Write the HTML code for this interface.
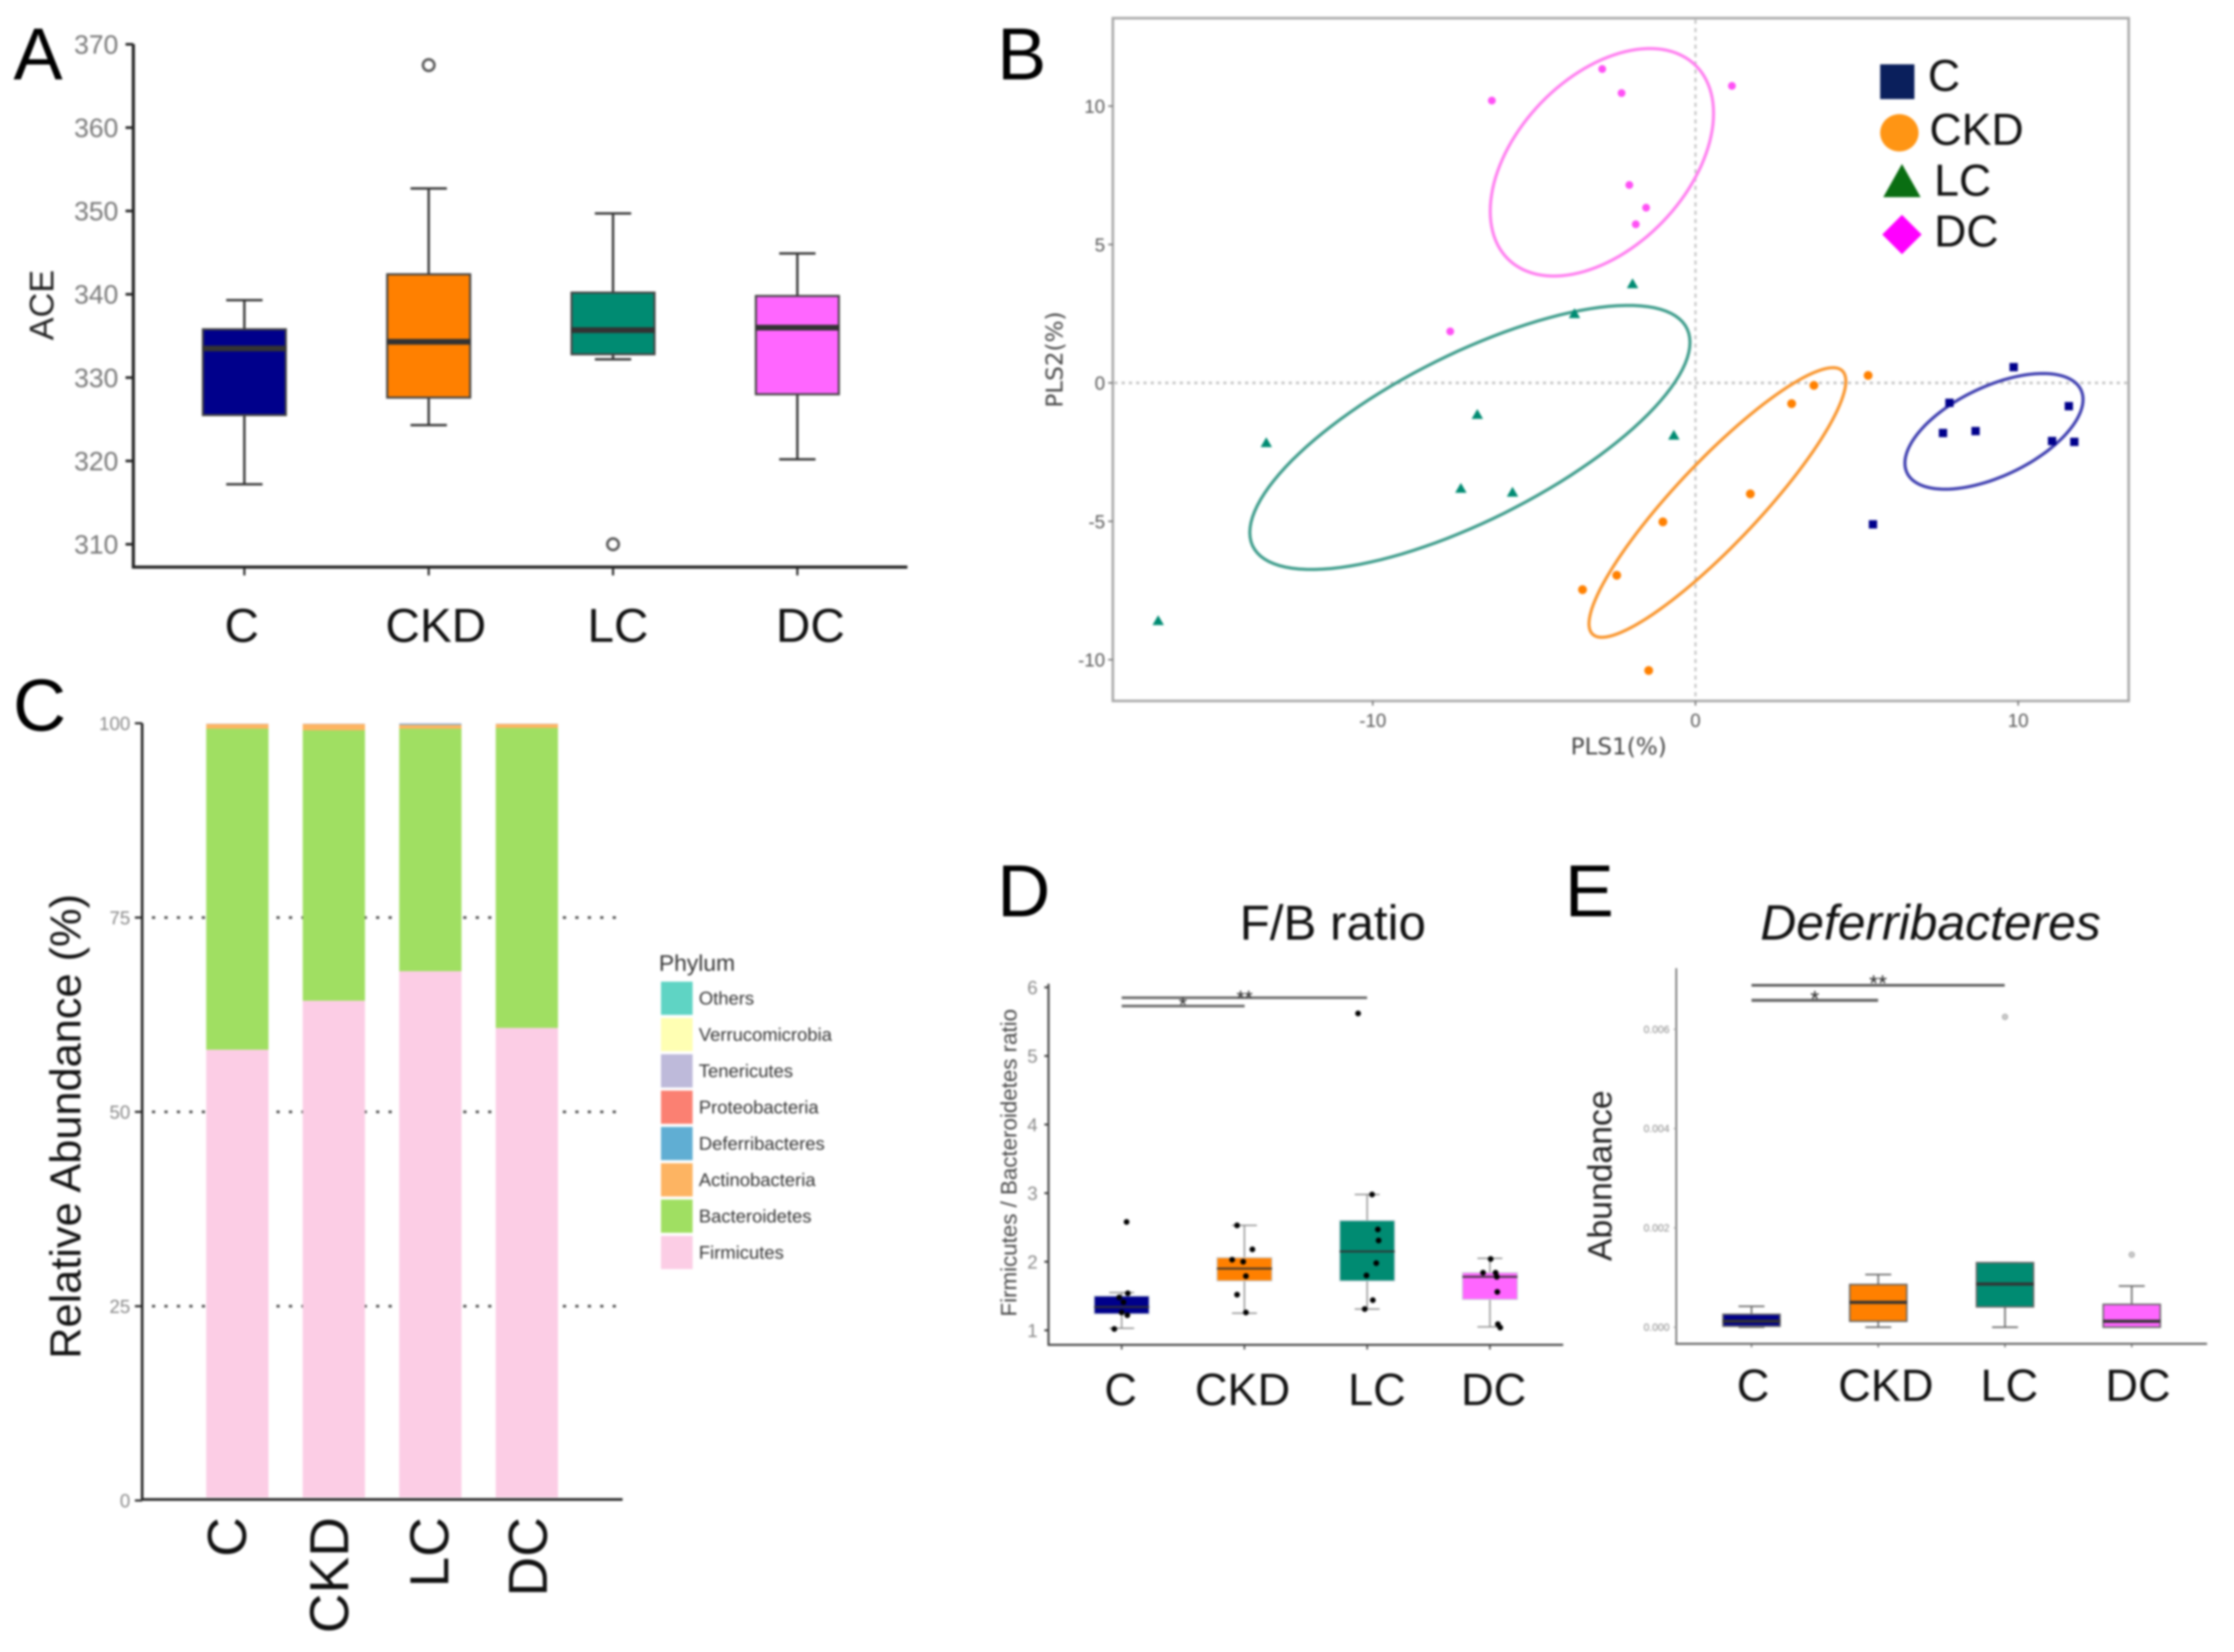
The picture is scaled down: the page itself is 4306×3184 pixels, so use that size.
<!DOCTYPE html>
<html lang="en">
<head>
<meta charset="utf-8">
<title>Gut microbiota diversity figure</title>
<style>
html,body{margin:0;padding:0;background:#fff}
svg{display:block;filter:blur(2.2px)}
text{font-family:"Liberation Sans",sans-serif}
.letter{font-size:142px;fill:#000}
.cat{font-size:92px;fill:#111}
.phy{font-size:35.5px;fill:#333}
.leg-b{font-size:86px;fill:#111}
</style>
</head>
<body>
<svg id="figure" xmlns="http://www.w3.org/2000/svg" width="4306" height="3184" viewBox="0 0 4306 3184">
<rect x="0" y="0" width="4306" height="3184" fill="#fff"/>

<g id="panel-a">
  <text class="letter" x="26" y="153">A</text>
  <text transform="translate(103,588) rotate(-90)" text-anchor="middle" font-size="66" fill="#222">ACE</text>
  <line x1="257" y1="85" x2="257" y2="1096" stroke="#222" stroke-width="6"/>
  <line x1="254" y1="1093" x2="1749" y2="1093" stroke="#222" stroke-width="6"/>
  <text class="cat" x="466" y="1237" text-anchor="middle">C</text>
  <text class="cat" x="840" y="1237" text-anchor="middle">CKD</text>
  <text class="cat" x="1191" y="1237" text-anchor="middle">LC</text>
  <text class="cat" x="1562" y="1237" text-anchor="middle">DC</text>
</g>

<g id="panel-b">
  <text class="letter" x="1922" y="153">B</text>
  <rect x="2145" y="35" width="1958" height="1316" fill="none" stroke="#aaa" stroke-width="5"/>
  <text x="3120" y="1454" text-anchor="middle" font-size="44.5" fill="#444" style="font-family:'DejaVu Sans',sans-serif">PLS1(%)</text>
  <text transform="translate(2048,693) rotate(-90)" text-anchor="middle" font-size="44.5" fill="#444" style="font-family:'DejaVu Sans',sans-serif">PLS2(%)</text>
  <g>
    <rect x="3624" y="124" width="66" height="67" fill="#0a1f5c"/>
    <text class="leg-b" x="3716" y="175">C</text>
    <ellipse cx="3661" cy="256" rx="37" ry="36" fill="#ff9514"/>
    <text class="leg-b" x="3719" y="279">CKD</text>
    <polygon points="3666,316 3702,380 3630,380" fill="#0a6e12"/>
    <text class="leg-b" x="3728" y="377">LC</text>
    <polygon points="3666,414 3704,452 3666,490 3628,452" fill="#ff00ff"/>
    <text class="leg-b" x="3728" y="475">DC</text>
  </g>
</g>

<g id="panel-c">
  <text class="letter" x="25" y="1408">C</text>
  <text transform="translate(155,2171) rotate(-90)" text-anchor="middle" font-size="83.5" fill="#111">Relative Abundance (%)</text>
  <g id="c-grid"></g>
  <g id="c-bars"></g>
  <line x1="274" y1="1394" x2="274" y2="2892" stroke="#222" stroke-width="5"/>
  <line x1="272" y1="2890" x2="1200" y2="2890" stroke="#222" stroke-width="5"/>
  <text transform="translate(474,2924) rotate(-90)" text-anchor="end" font-size="106" fill="#111">C</text>
  <text transform="translate(671,2924) rotate(-90)" text-anchor="end" font-size="106" fill="#111">CKD</text>
  <text transform="translate(864,2924) rotate(-90)" text-anchor="end" font-size="106" fill="#111">LC</text>
  <text transform="translate(1054,2924) rotate(-90)" text-anchor="end" font-size="106" fill="#111">DC</text>
  <g>
    <text x="1270" y="1871" font-size="44" fill="#333">Phylum</text>
    <rect x="1274" y="1892" width="61" height="64" fill="#5fd4c4"/>
    <text class="phy" x="1347" y="1936">Others</text>
    <rect x="1274" y="1962" width="61" height="64" fill="#ffffb3"/>
    <text class="phy" x="1347" y="2006">Verrucomicrobia</text>
    <rect x="1274" y="2032" width="61" height="64" fill="#bebada"/>
    <text class="phy" x="1347" y="2076">Tenericutes</text>
    <rect x="1274" y="2102" width="61" height="64" fill="#fb8072"/>
    <text class="phy" x="1347" y="2146">Proteobacteria</text>
    <rect x="1274" y="2172" width="61" height="64" fill="#60aed3"/>
    <text class="phy" x="1347" y="2216">Deferribacteres</text>
    <rect x="1274" y="2242" width="61" height="64" fill="#fdb462"/>
    <text class="phy" x="1347" y="2286">Actinobacteria</text>
    <rect x="1274" y="2312" width="61" height="64" fill="#a0df62"/>
    <text class="phy" x="1347" y="2356">Bacteroidetes</text>
    <rect x="1274" y="2382" width="61" height="64" fill="#fccde5"/>
    <text class="phy" x="1347" y="2426">Firmicutes</text>
  </g>
</g>

<g id="panel-d">
  <text class="letter" x="1922" y="1766">D</text>
  <text x="2569" y="1811" text-anchor="middle" font-size="95" fill="#111">F/B ratio</text>
  <text transform="translate(1959,2241) rotate(-90)" text-anchor="middle" font-size="43" fill="#444">Firmicutes / Bacteroidetes ratio</text>
  <line x1="2021" y1="1896" x2="2021" y2="2594" stroke="#444" stroke-width="4"/>
  <line x1="2019" y1="2592" x2="3013" y2="2592" stroke="#444" stroke-width="4"/>
  <line x1="2162" y1="1923" x2="2635" y2="1923" stroke="#666" stroke-width="5"/>
  <line x1="2162" y1="1939" x2="2399" y2="1939" stroke="#666" stroke-width="5"/>
  <text x="2399" y="1937" text-anchor="middle" font-size="40" fill="#222">**</text>
  <text x="2280" y="1950" text-anchor="middle" font-size="40" fill="#222">*</text>
  <text class="cat" x="2160" y="2708" text-anchor="middle" style="font-size:87px">C</text>
  <text class="cat" x="2395" y="2708" text-anchor="middle" style="font-size:87px">CKD</text>
  <text class="cat" x="2654" y="2708" text-anchor="middle" style="font-size:87px">LC</text>
  <text class="cat" x="2879" y="2708" text-anchor="middle" style="font-size:87px">DC</text>
</g>

<g id="panel-e">
  <text class="letter" x="3016" y="1766">E</text>
  <text x="3721" y="1811" text-anchor="middle" font-size="96" font-style="italic" fill="#111">Deferribacteres</text>
  <text transform="translate(3106,2266) rotate(-90)" text-anchor="middle" font-size="65" fill="#222">Abundance</text>
  <line x1="3231" y1="1866" x2="3231" y2="2592" stroke="#666" stroke-width="3"/>
  <line x1="3229" y1="2590" x2="4254" y2="2590" stroke="#666" stroke-width="4"/>
  <line x1="3376" y1="1899" x2="3864" y2="1899" stroke="#555" stroke-width="5"/>
  <line x1="3376" y1="1928" x2="3620" y2="1928" stroke="#666" stroke-width="6"/>
  <text x="3620" y="1910" text-anchor="middle" font-size="44" fill="#222">**</text>
  <text x="3498" y="1940" text-anchor="middle" font-size="44" fill="#222">*</text>
  <text class="cat" x="3379" y="2700" text-anchor="middle" style="font-size:87px">C</text>
  <text class="cat" x="3635" y="2700" text-anchor="middle" style="font-size:87px">CKD</text>
  <text class="cat" x="3873" y="2700" text-anchor="middle" style="font-size:87px">LC</text>
  <text class="cat" x="4121" y="2700" text-anchor="middle" style="font-size:87px">DC</text>
</g>
</svg>

<script>
// ---------- shared categories ----------
const groups = ['C', 'CKD', 'LC', 'DC'];

// ---------- panel A: ACE ----------
const aceTicks = [310, 320, 330, 340, 350, 360, 370];
const aceLow = [317.2, 324.3, 332.2, 320.2];
const aceQ1 = [325.5, 327.6, 332.8, 328.0];
const aceMedian = [333.5, 334.3, 335.7, 336.0];
const aceQ3 = [335.8, 342.4, 340.2, 339.8];
const aceHigh = [339.3, 352.7, 349.7, 344.9];
const aceOutlierValues = [null, 367.5, 310.0, null];

// ---------- panel B: PLS scores ----------
const plsXTicks = [-10, 0, 10];
const plsYTicks = [-10, -5, 0, 5, 10];
const plsCX = [9.86, 7.87, 11.57, 7.67, 8.68, 11.05, 11.74, 5.50];
const plsCY = [0.57, -0.72, -0.84, -1.81, -1.74, -2.10, -2.13, -5.11];
const plsCkdX = [5.35, 3.67, 2.98, 1.70, -1.01, -2.44, -3.50, -1.45];
const plsCkdY = [0.27, -0.09, -0.75, -4.01, -5.02, -6.95, -7.47, -10.39];
const plsLcX = [-1.95, -3.75, -6.76, -13.30, -0.67, -7.27, -5.67, -16.65];
const plsLcY = [3.57, 2.49, -1.15, -2.17, -1.90, -3.82, -3.96, -8.60];
const plsDcX = [-2.89, -6.31, -2.29, 1.13, -2.05, -1.53, -1.85, -7.60];
const plsDcY = [11.34, 10.20, 10.47, 10.73, 7.15, 6.33, 5.73, 1.86];
// group ellipses in data units: centre, radii, correlation
const ellipseCentreX = [9.25, 0.68, -6.99, -2.90];
const ellipseCentreY = [-1.75, -4.32, -1.97, 7.97];
const ellipseRadiusX = [2.76, 3.98, 6.82, 3.46];
const ellipseRadiusY = [2.09, 4.87, 4.77, 4.11];
const ellipseCorrelation = [0.55, 0.90, 0.72, 0.43];

// ---------- panel C: relative abundance ----------
const abundanceTicks = [0, 25, 50, 75, 100];
const firmicutes = [58.0, 64.3, 68.1, 60.8];
const bacteroidetes = [41.3, 34.8, 31.2, 38.6];
const actinobacteria = [0.6, 0.8, 0.5, 0.5];
const deferribacteres = [0.0, 0.0, 0.1, 0.0];
const tenericutes = [0.05, 0.05, 0.1, 0.05];

// ---------- panel D: F/B ratio ----------
const fbTicks = [1, 2, 3, 4, 5, 6];
const fbLow = [1.03, 1.25, 1.31, 1.05];
const fbQ1 = [1.24, 1.72, 1.72, 1.45];
const fbMedian = [1.34, 1.90, 2.15, 1.78];
const fbQ3 = [1.50, 2.06, 2.60, 1.84];
const fbHigh = [1.55, 2.53, 2.98, 2.05];
const fbPointsC = [2.58, 1.54, 1.48, 1.41, 1.26, 1.22, 1.02];
const fbPointsCkd = [2.53, 2.18, 2.03, 2.00, 1.79, 1.52, 1.26];
const fbPointsLc = [5.62, 2.98, 2.47, 2.31, 1.98, 1.80, 1.44, 1.31];
const fbPointsDc = [2.04, 1.84, 1.84, 1.78, 1.56, 1.09, 1.04];
const fbJitterC = [0.04, 0.05, -0.02, 0.015, 0.0, 0.046, -0.06];
const fbJitterCkd = [-0.06, 0.065, -0.10, -0.01, 0.012, -0.06, 0.012];
const fbJitterLc = [-0.074, 0.04, 0.087, 0.093, 0.074, -0.006, 0.046, -0.02];
const fbJitterDc = [0.006, -0.056, 0.046, 0.056, 0.06, 0.065, 0.084];

// ---------- panel E: Deferribacteres ----------
const defTicks = [0, 0.002, 0.004, 0.006];
const defLow = [0.0, 0.0, 0.0, 0.0];
const defQ1 = [0.00002, 0.00012, 0.00041, 0.0];
const defMedian = [0.00012, 0.0005, 0.00087, 0.00012];
const defQ3 = [0.00026, 0.00086, 0.0013, 0.00046];
const defHigh = [0.00042, 0.00106, 0.0013, 0.00083];
const defOutlierValues = [null, null, 0.00625, 0.00146];

// ---------- axis functions ----------
const xA = i => 471 + i * 355.3;
const yA = v => 1049 - (v - 310) * 16.06;
const xB = v => 3268 + v * 62.2;
const yB = v => 738 - v * 53.35;
const xC = i => 457.5 + i * 186;
const yC = v => 2892 - v * 14.98;
const xD = i => 2162 + i * 236.6;
const yD = v => 2564 - (v - 1) * 132.2;
const xE = i => 3376 + i * 244.3;
const yE = v => 2558 - v * 95700;

const groupColors = ['#00008b', '#ff8000', '#008b72', '#ff66ff'];
const NS = 'http://www.w3.org/2000/svg';
function mk(parent, tag, attrs, content) {
  const el = document.createElementNS(NS, tag);
  for (const k in attrs) el.setAttribute(k, attrs[k]);
  if (content !== undefined) el.textContent = content;
  parent.appendChild(el);
  return el;
}
const slug = s => String(s).toLowerCase();

function drawBoxes(parent, key, xf, yf, low, q1, med, q3, high, st) {
  groups.forEach((g, i) => {
    const cx = xf(i);
    const gBox = mk(parent, 'g', {});
    
    
    const w1 = mk(gBox, 'line', {x1: cx, x2: cx, y1: yf(q3[i]), y2: yf(high[i]), stroke: st.line, 'stroke-width': st.whisker});
    
    
    const w2 = mk(gBox, 'line', {x1: cx, x2: cx, y1: yf(q1[i]), y2: yf(low[i]), stroke: st.line, 'stroke-width': st.whisker});
    
    
    const c1 = mk(gBox, 'line', {x1: cx - st.cap, x2: cx + st.cap, y1: yf(high[i]), y2: yf(high[i]), stroke: st.line, 'stroke-width': st.whisker});
    
    
    const c2 = mk(gBox, 'line', {x1: cx - st.cap, x2: cx + st.cap, y1: yf(low[i]), y2: yf(low[i]), stroke: st.line, 'stroke-width': st.whisker});
    
    
    const r = mk(gBox, 'rect', {x: cx - st.half, y: yf(q3[i]), width: st.half * 2, height: yf(q1[i]) - yf(q3[i]), fill: groupColors[i], stroke: st.border, 'stroke-width': st.boxStroke});
    
    
    const m = mk(gBox, 'line', {x1: cx - st.half, x2: cx + st.half, y1: yf(med[i]), y2: yf(med[i]), stroke: '#333', 'stroke-width': st.median});
    
    
  });
}

function drawXTicks(parent, key, xf, y0, len, color, width) {
  groups.forEach((g, i) => {
    const t = mk(parent, 'line', {x1: xf(i), x2: xf(i), y1: y0, y2: y0 + len, stroke: color, 'stroke-width': width});
    
    
  });
}

function drawYTicks(parent, key, ticks, yf, st) {
  ticks.forEach(v => {
    const t = mk(parent, 'line', {x1: st.axis - st.len, x2: st.axis, y1: yf(v), y2: yf(v), stroke: st.color, 'stroke-width': st.width});
    
    
    const label = st.fmt ? st.fmt(v) : String(v);
    const l = mk(parent, 'text', {x: st.textX, y: yf(v) + st.dy, 'text-anchor': 'end', 'font-size': st.size, fill: st.text}, label);
    
    
  });
}

// ---------- panel A ----------
const pA = document.getElementById('panel-a');
drawYTicks(pA, 'ace', aceTicks, yA, {axis: 257, len: 15, color: '#222', width: 5, textX: 228, dy: 18, size: 51, text: '#777'});
drawXTicks(pA, 'ace', xA, 1093, 16, '#222', 4);
drawBoxes(pA, 'ace', xA, yA, aceLow, aceQ1, aceMedian, aceQ3, aceHigh, {half: 80, cap: 35, whisker: 4.5, line: '#333', border: '#444', boxStroke: 4, median: 11});
aceOutlierValues.forEach((v, i) => {
  if (v === null) return;
  const o = mk(pA, 'circle', {cx: xA(i), cy: yA(v), r: 11, fill: '#fff', stroke: '#555', 'stroke-width': 5});
  
  
});

// ---------- panel B ----------
const pB = document.getElementById('panel-b');
const refV = mk(pB, 'line', {x1: xB(0), x2: xB(0), y1: 38, y2: 1349, stroke: '#c4c4c4', 'stroke-width': 4, 'stroke-dasharray': '8 8'});


const refH = mk(pB, 'line', {x1: 2148, x2: 4100, y1: yB(0), y2: yB(0), stroke: '#c4c4c4', 'stroke-width': 5, 'stroke-dasharray': '6 8'});


plsXTicks.forEach(v => {
  const t = mk(pB, 'line', {x1: xB(v), x2: xB(v), y1: 1351, y2: 1360, stroke: '#777', 'stroke-width': 3});
  
  
  const l = mk(pB, 'text', {x: xB(v), y: 1401, 'text-anchor': 'middle', 'font-size': 36, fill: '#555'}, String(v));
  
  
});
plsYTicks.forEach(v => {
  const t = mk(pB, 'line', {x1: 2136, x2: 2145, y1: yB(v), y2: yB(v), stroke: '#777', 'stroke-width': 3});
  
  
  const l = mk(pB, 'text', {x: 2130, y: yB(v) + 13, 'text-anchor': 'end', 'font-size': 36, fill: '#555'}, String(v));
  
  
});
const ellipseColors = ['#3f3fb0', '#f9962f', '#3f9d8c', '#ff80f0'];
groups.forEach((g, i) => {
  const rho = ellipseCorrelation[i];
  const pts = [];
  for (let a = 0; a < 120; a++) {
    const t = a / 120 * 2 * Math.PI;
    const dx = ellipseRadiusX[i] * Math.cos(t);
    const dy = ellipseRadiusY[i] * (rho * Math.cos(t) + Math.sqrt(1 - rho * rho) * Math.sin(t));
    pts.push(xB(ellipseCentreX[i] + dx).toFixed(1) + ',' + yB(ellipseCentreY[i] + dy).toFixed(1));
  }
  const e = mk(pB, 'polygon', {points: pts.join(' '), fill: 'none', stroke: ellipseColors[i], 'stroke-width': 6});
  
  
});
plsCX.forEach((v, i) => {
  const m = mk(pB, 'rect', {x: xB(v) - 8, y: yB(plsCY[i]) - 8, width: 16, height: 16, fill: '#00008b'});
  
  
});
plsCkdX.forEach((v, i) => {
  const m = mk(pB, 'circle', {cx: xB(v), cy: yB(plsCkdY[i]), r: 8.5, fill: '#ff8000'});
  
  
});
plsLcX.forEach((v, i) => {
  const px = xB(v), py = yB(plsLcY[i]);
  const m = mk(pB, 'polygon', {points: (px) + ',' + (py - 11) + ' ' + (px + 11) + ',' + (py + 8) + ' ' + (px - 11) + ',' + (py + 8), fill: '#008b72'});
  
  
});
plsDcX.forEach((v, i) => {
  const m = mk(pB, 'circle', {cx: xB(v), cy: yB(plsDcY[i]), r: 7.5, fill: '#ff50f5'});
  
  
});

// ---------- panel C ----------
const pC = document.getElementById('panel-c');
const cGrid = document.getElementById('c-grid');
const cBars = document.getElementById('c-bars');
abundanceTicks.slice(1, 4).forEach(v => {
  const g = mk(cGrid, 'line', {x1: 293, x2: 1205, y1: yC(v), y2: yC(v), stroke: '#444', 'stroke-width': 5, 'stroke-dasharray': '6 18'});
  
  
});
drawYTicks(pC, 'abundance', abundanceTicks, yC, {axis: 274, len: 14, color: '#222', width: 4, textX: 251, dy: 13, size: 36, text: '#888'});
const stackNames = ['firmicutes', 'bacteroidetes', 'actinobacteria', 'deferribacteres', 'tenericutes'];
const stackSeries = [firmicutes, bacteroidetes, actinobacteria, deferribacteres, tenericutes];
const stackColors = ['#fccde5', '#a0df62', '#fdb462', '#60aed3', '#bebada'];
const barBase = 0.4;
groups.forEach((g, i) => {
  let cum = 0;
  stackSeries.forEach((s, k) => {
    const from = Math.max(cum, barBase);
    const to = cum + s[i];
    cum = to;
    const b = mk(cBars, 'rect', {x: xC(i) - 60, y: yC(to), width: 120, height: Math.max(0, yC(from) - yC(to)), fill: stackColors[k]});
    
    
  });
});

// ---------- panel D ----------
const pD = document.getElementById('panel-d');
drawYTicks(pD, 'fb', fbTicks, yD, {axis: 2021, len: 8, color: '#444', width: 4, textX: 2000, dy: 13, size: 36, text: '#888'});
drawXTicks(pD, 'fb', xD, 2592, 9, '#444', 3);
drawBoxes(pD, 'fb', xD, yD, fbLow, fbQ1, fbMedian, fbQ3, fbHigh, {half: 53, cap: 24, whisker: 2.5, line: '#888', border: '#c8d0d8', boxStroke: 2, median: 3.5});
const fbPoints = [fbPointsC, fbPointsCkd, fbPointsLc, fbPointsDc];
const fbJitter = [fbJitterC, fbJitterCkd, fbJitterLc, fbJitterDc];
groups.forEach((g, i) => {
  fbPoints[i].forEach((v, k) => {
    const p = mk(pD, 'circle', {cx: xD(i + fbJitter[i][k]), cy: yD(v), r: 5.5, fill: '#000'});
    
    
  });
});

// ---------- panel E ----------
const pE = document.getElementById('panel-e');
drawYTicks(pE, 'def', defTicks, yE, {axis: 3231, len: 5, color: '#999', width: 2, textX: 3218, dy: 7, size: 20, text: '#888', fmt: v => v.toFixed(3)});
drawXTicks(pE, 'def', xE, 2590, 7, '#666', 2.5);
drawBoxes(pE, 'def', xE, yE, defLow, defQ1, defMedian, defQ3, defHigh, {half: 55, cap: 25, whisker: 3, line: '#666', border: '#666', boxStroke: 3, median: 6});
defOutlierValues.forEach((v, i) => {
  if (v === null) return;
  const o = mk(pE, 'circle', {cx: xE(i), cy: yE(v), r: 5, fill: '#ccc', stroke: '#aaa', 'stroke-width': 2});
  
  
});
</script>
</body>
</html>
